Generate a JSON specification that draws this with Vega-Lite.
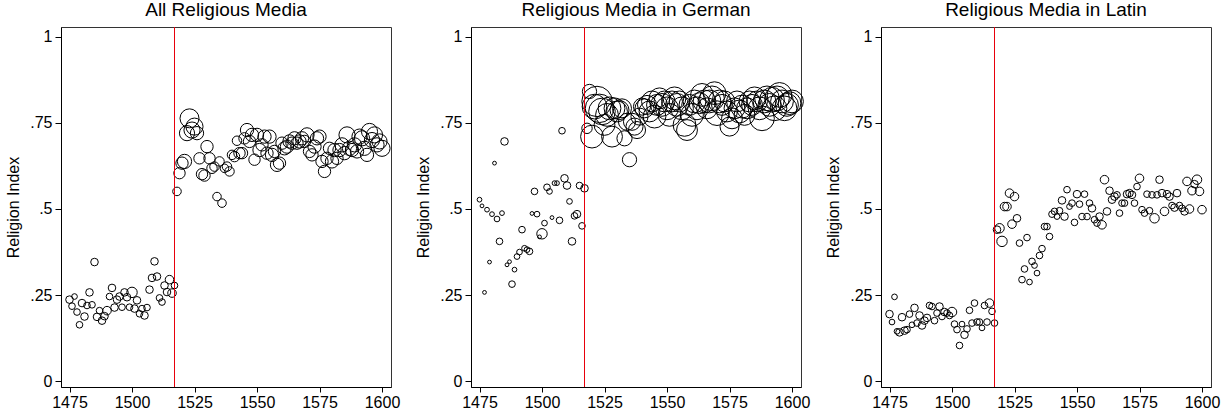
{
  "$schema": "https://vega.github.io/schema/vega-lite/v6.json",
  "autosize": "none",
  "padding": {"left": 61, "top": 27, "right": 1171, "bottom": 24},
  "background": "white",
  "bounds": "flush",
  "spacing": 80,
  "config": {
    "font": "Liberation Sans",
    "view": {"stroke": "#333333", "strokeWidth": 1},
    "axis": {
      "grid": false,
      "domainColor": "black",
      "tickColor": "black",
      "labelColor": "black",
      "labelFont": "Liberation Sans",
      "labelFontSize": 16,
      "titleFont": "Liberation Sans",
      "titleFontSize": 16,
      "titleFontWeight": "normal",
      "titleColor": "black"
    },
    "title": {"font": "Liberation Sans", "fontSize": 19, "fontWeight": "normal", "color": "black", "anchor": "middle", "frame": "group", "baseline": "alphabetic", "offset": 7}
  },
  "datasets": {
    "all": [
      {"year":1475,"idx":0.237,"n":64},{"year":1476,"idx":0.218,"n":49},{"year":1477,"idx":0.246,"n":36},{"year":1478,"idx":0.201,"n":49},{"year":1479,"idx":0.164,"n":49},{"year":1480,"idx":0.227,"n":64},{"year":1481,"idx":0.188,"n":64},{"year":1482,"idx":0.220,"n":49},{"year":1483,"idx":0.258,"n":64},{"year":1484,"idx":0.222,"n":49},{"year":1485,"idx":0.346,"n":64},{"year":1486,"idx":0.187,"n":64},{"year":1487,"idx":0.205,"n":49},{"year":1488,"idx":0.176,"n":64},{"year":1489,"idx":0.189,"n":64},{"year":1490,"idx":0.205,"n":81},{"year":1491,"idx":0.246,"n":49},{"year":1492,"idx":0.271,"n":64},{"year":1493,"idx":0.214,"n":64},{"year":1494,"idx":0.237,"n":64},{"year":1495,"idx":0.246,"n":64},{"year":1496,"idx":0.215,"n":49},{"year":1497,"idx":0.258,"n":64},{"year":1498,"idx":0.244,"n":64},{"year":1499,"idx":0.215,"n":49},{"year":1500,"idx":0.258,"n":121},{"year":1501,"idx":0.211,"n":64},{"year":1502,"idx":0.235,"n":64},{"year":1503,"idx":0.196,"n":49},{"year":1504,"idx":0.211,"n":49},{"year":1505,"idx":0.191,"n":64},{"year":1506,"idx":0.214,"n":49},{"year":1507,"idx":0.266,"n":64},{"year":1508,"idx":0.300,"n":64},{"year":1509,"idx":0.348,"n":64},{"year":1510,"idx":0.304,"n":64},{"year":1511,"idx":0.242,"n":49},{"year":1512,"idx":0.230,"n":49},{"year":1513,"idx":0.278,"n":64},{"year":1514,"idx":0.259,"n":64},{"year":1515,"idx":0.295,"n":81},{"year":1516,"idx":0.256,"n":81},{"year":1517,"idx":0.278,"n":49},
      {"year":1518,"idx":0.551,"n":81},{"year":1519,"idx":0.604,"n":144},{"year":1520,"idx":0.633,"n":169},{"year":1521,"idx":0.638,"n":225},{"year":1522,"idx":0.720,"n":256},{"year":1523,"idx":0.763,"n":400},{"year":1524,"idx":0.729,"n":289},{"year":1525,"idx":0.739,"n":324},{"year":1526,"idx":0.720,"n":196},{"year":1527,"idx":0.647,"n":144},{"year":1528,"idx":0.601,"n":144},{"year":1529,"idx":0.597,"n":144},{"year":1530,"idx":0.681,"n":169},{"year":1531,"idx":0.647,"n":144},{"year":1532,"idx":0.618,"n":121},{"year":1533,"idx":0.623,"n":100},{"year":1534,"idx":0.536,"n":81},{"year":1535,"idx":0.638,"n":100},{"year":1536,"idx":0.517,"n":81},{"year":1537,"idx":0.618,"n":81},{"year":1538,"idx":0.623,"n":100},{"year":1539,"idx":0.609,"n":100},{"year":1540,"idx":0.657,"n":100},{"year":1541,"idx":0.652,"n":121},{"year":1542,"idx":0.698,"n":100},{"year":1543,"idx":0.662,"n":144},{"year":1544,"idx":0.662,"n":144},{"year":1545,"idx":0.705,"n":144},{"year":1546,"idx":0.729,"n":196},{"year":1547,"idx":0.696,"n":169},{"year":1548,"idx":0.715,"n":196},{"year":1549,"idx":0.643,"n":144},{"year":1550,"idx":0.715,"n":196},{"year":1551,"idx":0.671,"n":196},{"year":1552,"idx":0.686,"n":169},{"year":1553,"idx":0.710,"n":196},{"year":1554,"idx":0.662,"n":169},{"year":1555,"idx":0.710,"n":196},{"year":1556,"idx":0.657,"n":196},{"year":1557,"idx":0.667,"n":169},{"year":1558,"idx":0.628,"n":196},{"year":1559,"idx":0.633,"n":169},{"year":1560,"idx":0.691,"n":169},{"year":1561,"idx":0.676,"n":196},{"year":1562,"idx":0.681,"n":196},{"year":1563,"idx":0.696,"n":196},{"year":1564,"idx":0.691,"n":169},{"year":1565,"idx":0.705,"n":196},{"year":1566,"idx":0.691,"n":169},{"year":1567,"idx":0.696,"n":196},{"year":1568,"idx":0.705,"n":196},{"year":1569,"idx":0.696,"n":169},{"year":1570,"idx":0.715,"n":225},{"year":1571,"idx":0.667,"n":169},{"year":1572,"idx":0.657,"n":169},{"year":1573,"idx":0.681,"n":196},{"year":1574,"idx":0.705,"n":196},{"year":1575,"idx":0.710,"n":196},{"year":1576,"idx":0.638,"n":169},{"year":1577,"idx":0.609,"n":169},{"year":1578,"idx":0.647,"n":169},{"year":1579,"idx":0.676,"n":169},{"year":1580,"idx":0.638,"n":196},{"year":1581,"idx":0.671,"n":196},{"year":1582,"idx":0.647,"n":169},{"year":1583,"idx":0.671,"n":196},{"year":1584,"idx":0.686,"n":225},{"year":1585,"idx":0.662,"n":196},{"year":1586,"idx":0.715,"n":289},{"year":1587,"idx":0.676,"n":225},{"year":1588,"idx":0.671,"n":196},{"year":1589,"idx":0.686,"n":225},{"year":1590,"idx":0.667,"n":196},{"year":1591,"idx":0.710,"n":256},{"year":1592,"idx":0.705,"n":256},{"year":1593,"idx":0.676,"n":225},{"year":1594,"idx":0.657,"n":196},{"year":1595,"idx":0.725,"n":289},{"year":1596,"idx":0.700,"n":256},{"year":1597,"idx":0.715,"n":289},{"year":1598,"idx":0.686,"n":225},{"year":1599,"idx":0.696,"n":256},{"year":1600,"idx":0.676,"n":289}
    ],
    "german": [
      {"year":1475,"idx":0.527,"n":25},{"year":1476,"idx":0.509,"n":16},{"year":1477,"idx":0.258,"n":16},{"year":1478,"idx":0.498,"n":25},{"year":1479,"idx":0.346,"n":16},{"year":1480,"idx":0.485,"n":25},{"year":1481,"idx":0.633,"n":16},{"year":1482,"idx":0.471,"n":36},{"year":1483,"idx":0.406,"n":49},{"year":1484,"idx":0.488,"n":25},{"year":1485,"idx":0.696,"n":64},{"year":1486,"idx":0.338,"n":16},{"year":1487,"idx":0.347,"n":16},{"year":1488,"idx":0.282,"n":49},{"year":1489,"idx":0.324,"n":25},{"year":1490,"idx":0.362,"n":36},{"year":1491,"idx":0.375,"n":36},{"year":1492,"idx":0.440,"n":49},{"year":1493,"idx":0.386,"n":36},{"year":1494,"idx":0.382,"n":36},{"year":1495,"idx":0.377,"n":49},{"year":1496,"idx":0.487,"n":16},{"year":1497,"idx":0.551,"n":49},{"year":1498,"idx":0.485,"n":36},{"year":1499,"idx":0.419,"n":16},{"year":1500,"idx":0.428,"n":121},{"year":1501,"idx":0.459,"n":36},{"year":1502,"idx":0.563,"n":49},{"year":1503,"idx":0.551,"n":36},{"year":1504,"idx":0.475,"n":16},{"year":1505,"idx":0.575,"n":25},{"year":1506,"idx":0.575,"n":25},{"year":1507,"idx":0.467,"n":49},{"year":1508,"idx":0.727,"n":49},{"year":1509,"idx":0.589,"n":64},{"year":1510,"idx":0.568,"n":64},{"year":1511,"idx":0.522,"n":36},{"year":1512,"idx":0.406,"n":64},{"year":1513,"idx":0.480,"n":49},{"year":1514,"idx":0.485,"n":64},{"year":1515,"idx":0.568,"n":49},{"year":1516,"idx":0.451,"n":49},{"year":1517,"idx":0.560,"n":64},
      {"year":1518,"idx":0.734,"n":121},{"year":1519,"idx":0.841,"n":225},{"year":1520,"idx":0.710,"n":576},{"year":1521,"idx":0.797,"n":676},{"year":1522,"idx":0.812,"n":1024},{"year":1523,"idx":0.792,"n":900},{"year":1524,"idx":0.783,"n":784},{"year":1525,"idx":0.744,"n":484},{"year":1526,"idx":0.773,"n":576},{"year":1527,"idx":0.792,"n":576},{"year":1528,"idx":0.710,"n":484},{"year":1529,"idx":0.792,"n":484},{"year":1530,"idx":0.783,"n":484},{"year":1531,"idx":0.787,"n":400},{"year":1532,"idx":0.792,"n":400},{"year":1533,"idx":0.705,"n":256},{"year":1534,"idx":0.753,"n":324},{"year":1535,"idx":0.643,"n":225},{"year":1536,"idx":0.753,"n":324},{"year":1537,"idx":0.739,"n":324},{"year":1538,"idx":0.729,"n":324},{"year":1539,"idx":0.768,"n":324},{"year":1540,"idx":0.797,"n":324},{"year":1541,"idx":0.792,"n":400},{"year":1542,"idx":0.802,"n":400},{"year":1543,"idx":0.783,"n":484},{"year":1544,"idx":0.812,"n":484},{"year":1545,"idx":0.768,"n":576},{"year":1546,"idx":0.802,"n":484},{"year":1547,"idx":0.821,"n":484},{"year":1548,"idx":0.802,"n":576},{"year":1549,"idx":0.812,"n":484},{"year":1550,"idx":0.792,"n":576},{"year":1551,"idx":0.773,"n":576},{"year":1552,"idx":0.812,"n":484},{"year":1553,"idx":0.821,"n":576},{"year":1554,"idx":0.802,"n":576},{"year":1555,"idx":0.812,"n":484},{"year":1556,"idx":0.792,"n":576},{"year":1557,"idx":0.744,"n":576},{"year":1558,"idx":0.729,"n":484},{"year":1559,"idx":0.802,"n":484},{"year":1560,"idx":0.773,"n":576},{"year":1561,"idx":0.812,"n":576},{"year":1562,"idx":0.792,"n":576},{"year":1563,"idx":0.807,"n":484},{"year":1564,"idx":0.831,"n":576},{"year":1565,"idx":0.812,"n":576},{"year":1566,"idx":0.792,"n":484},{"year":1567,"idx":0.812,"n":576},{"year":1568,"idx":0.821,"n":676},{"year":1569,"idx":0.836,"n":576},{"year":1570,"idx":0.778,"n":676},{"year":1571,"idx":0.812,"n":576},{"year":1572,"idx":0.802,"n":484},{"year":1573,"idx":0.812,"n":484},{"year":1574,"idx":0.783,"n":484},{"year":1575,"idx":0.739,"n":400},{"year":1576,"idx":0.763,"n":484},{"year":1577,"idx":0.792,"n":484},{"year":1578,"idx":0.812,"n":484},{"year":1579,"idx":0.783,"n":576},{"year":1580,"idx":0.797,"n":576},{"year":1581,"idx":0.773,"n":484},{"year":1582,"idx":0.792,"n":484},{"year":1583,"idx":0.812,"n":484},{"year":1584,"idx":0.802,"n":484},{"year":1585,"idx":0.821,"n":576},{"year":1586,"idx":0.812,"n":484},{"year":1587,"idx":0.792,"n":576},{"year":1588,"idx":0.763,"n":676},{"year":1589,"idx":0.812,"n":576},{"year":1590,"idx":0.821,"n":676},{"year":1591,"idx":0.802,"n":576},{"year":1592,"idx":0.817,"n":676},{"year":1593,"idx":0.792,"n":676},{"year":1594,"idx":0.821,"n":676},{"year":1595,"idx":0.831,"n":676},{"year":1596,"idx":0.812,"n":576},{"year":1597,"idx":0.792,"n":676},{"year":1598,"idx":0.802,"n":576},{"year":1599,"idx":0.807,"n":576},{"year":1600,"idx":0.812,"n":576}
    ],
    "latin": [
      {"year":1475,"idx":0.195,"n":64},{"year":1476,"idx":0.172,"n":36},{"year":1477,"idx":0.245,"n":36},{"year":1478,"idx":0.145,"n":36},{"year":1479,"idx":0.142,"n":64},{"year":1480,"idx":0.186,"n":64},{"year":1481,"idx":0.147,"n":64},{"year":1482,"idx":0.150,"n":49},{"year":1483,"idx":0.195,"n":49},{"year":1484,"idx":0.164,"n":36},{"year":1485,"idx":0.213,"n":64},{"year":1486,"idx":0.169,"n":49},{"year":1487,"idx":0.191,"n":64},{"year":1488,"idx":0.162,"n":64},{"year":1489,"idx":0.176,"n":64},{"year":1490,"idx":0.184,"n":64},{"year":1491,"idx":0.220,"n":49},{"year":1492,"idx":0.217,"n":49},{"year":1493,"idx":0.176,"n":49},{"year":1494,"idx":0.198,"n":49},{"year":1495,"idx":0.217,"n":64},{"year":1496,"idx":0.188,"n":49},{"year":1497,"idx":0.201,"n":64},{"year":1498,"idx":0.198,"n":49},{"year":1499,"idx":0.191,"n":49},{"year":1500,"idx":0.201,"n":100},{"year":1501,"idx":0.166,"n":49},{"year":1502,"idx":0.150,"n":49},{"year":1503,"idx":0.104,"n":49},{"year":1504,"idx":0.166,"n":36},{"year":1505,"idx":0.135,"n":64},{"year":1506,"idx":0.152,"n":49},{"year":1507,"idx":0.206,"n":49},{"year":1508,"idx":0.169,"n":49},{"year":1509,"idx":0.227,"n":49},{"year":1510,"idx":0.172,"n":49},{"year":1511,"idx":0.172,"n":49},{"year":1512,"idx":0.155,"n":36},{"year":1513,"idx":0.220,"n":49},{"year":1514,"idx":0.172,"n":49},{"year":1515,"idx":0.227,"n":81},{"year":1516,"idx":0.203,"n":49},{"year":1517,"idx":0.169,"n":49},
      {"year":1518,"idx":0.440,"n":64},{"year":1519,"idx":0.444,"n":100},{"year":1520,"idx":0.406,"n":121},{"year":1521,"idx":0.507,"n":81},{"year":1522,"idx":0.507,"n":81},{"year":1523,"idx":0.546,"n":81},{"year":1524,"idx":0.456,"n":81},{"year":1525,"idx":0.536,"n":81},{"year":1526,"idx":0.473,"n":64},{"year":1527,"idx":0.401,"n":49},{"year":1528,"idx":0.295,"n":49},{"year":1529,"idx":0.326,"n":49},{"year":1530,"idx":0.417,"n":49},{"year":1531,"idx":0.288,"n":36},{"year":1532,"idx":0.348,"n":49},{"year":1533,"idx":0.336,"n":36},{"year":1534,"idx":0.314,"n":36},{"year":1535,"idx":0.365,"n":49},{"year":1536,"idx":0.385,"n":49},{"year":1537,"idx":0.449,"n":49},{"year":1538,"idx":0.449,"n":49},{"year":1539,"idx":0.420,"n":49},{"year":1540,"idx":0.485,"n":49},{"year":1541,"idx":0.493,"n":49},{"year":1542,"idx":0.478,"n":36},{"year":1543,"idx":0.495,"n":49},{"year":1544,"idx":0.525,"n":64},{"year":1545,"idx":0.478,"n":64},{"year":1546,"idx":0.556,"n":49},{"year":1547,"idx":0.507,"n":36},{"year":1548,"idx":0.517,"n":49},{"year":1549,"idx":0.461,"n":49},{"year":1550,"idx":0.543,"n":64},{"year":1551,"idx":0.514,"n":49},{"year":1552,"idx":0.478,"n":49},{"year":1553,"idx":0.543,"n":49},{"year":1554,"idx":0.478,"n":49},{"year":1555,"idx":0.517,"n":49},{"year":1556,"idx":0.502,"n":64},{"year":1557,"idx":0.469,"n":49},{"year":1558,"idx":0.459,"n":49},{"year":1559,"idx":0.478,"n":64},{"year":1560,"idx":0.454,"n":81},{"year":1561,"idx":0.585,"n":81},{"year":1562,"idx":0.493,"n":64},{"year":1563,"idx":0.553,"n":64},{"year":1564,"idx":0.527,"n":64},{"year":1565,"idx":0.536,"n":64},{"year":1566,"idx":0.541,"n":49},{"year":1567,"idx":0.488,"n":49},{"year":1568,"idx":0.517,"n":49},{"year":1569,"idx":0.517,"n":49},{"year":1570,"idx":0.543,"n":64},{"year":1571,"idx":0.546,"n":64},{"year":1572,"idx":0.541,"n":64},{"year":1573,"idx":0.517,"n":49},{"year":1574,"idx":0.565,"n":49},{"year":1575,"idx":0.589,"n":81},{"year":1576,"idx":0.498,"n":49},{"year":1577,"idx":0.488,"n":49},{"year":1578,"idx":0.543,"n":49},{"year":1579,"idx":0.495,"n":49},{"year":1580,"idx":0.541,"n":49},{"year":1581,"idx":0.473,"n":100},{"year":1582,"idx":0.541,"n":49},{"year":1583,"idx":0.585,"n":64},{"year":1584,"idx":0.546,"n":64},{"year":1585,"idx":0.493,"n":81},{"year":1586,"idx":0.543,"n":64},{"year":1587,"idx":0.536,"n":64},{"year":1588,"idx":0.510,"n":49},{"year":1589,"idx":0.504,"n":64},{"year":1590,"idx":0.546,"n":64},{"year":1591,"idx":0.510,"n":49},{"year":1592,"idx":0.502,"n":49},{"year":1593,"idx":0.493,"n":64},{"year":1594,"idx":0.580,"n":81},{"year":1595,"idx":0.500,"n":81},{"year":1596,"idx":0.553,"n":81},{"year":1597,"idx":0.572,"n":64},{"year":1598,"idx":0.585,"n":100},{"year":1599,"idx":0.551,"n":81},{"year":1600,"idx":0.498,"n":81}
    ],
    "reform": [{"year": 1517}]
  },
  "hconcat": [
    {
      "width": 330, "height": 360,
      "title": {"text": "All Religious Media"},
      "layer": [
        {
          "data": {"name": "all"},
          "mark": {"type": "point", "shape": "circle", "filled": false, "stroke": "black", "strokeWidth": 1, "opacity": 1},
          "encoding": {
            "x": {"field": "year", "type": "quantitative", "scale": {"domain": [1471.6, 1603.6], "nice": false, "zero": false}, "axis": {"values": [1475, 1500, 1525, 1550, 1575, 1600], "format": "d", "title": null, "tickSize": 5, "labelPadding": 2}},
            "y": {"field": "idx", "type": "quantitative", "scale": {"domain": [-0.0165, 1.028], "nice": false, "zero": false}, "axis": {"values": [0, 0.25, 0.5, 0.75, 1], "format": ".2~f", "labelExpr": "datum.value == 0 ? '0' : datum.value == 1 ? '1' : substring(datum.label, 1)", "title": "Religion Index", "tickSize": 6, "labelPadding": 3, "titlePadding": 8}},
            "size": {"field": "n", "type": "quantitative", "scale": {"domain": [0, 1000], "range": [0, 900]}, "legend": null}
          }
        },
        {
          "data": {"name": "reform"},
          "mark": {"type": "rule", "color": "#e8000b", "strokeWidth": 1},
          "encoding": {"x": {"field": "year", "type": "quantitative"}}
        }
      ]
    },
    {
      "width": 330, "height": 360,
      "title": {"text": "Religious Media in German"},
      "layer": [
        {
          "data": {"name": "german"},
          "mark": {"type": "point", "shape": "circle", "filled": false, "stroke": "black", "strokeWidth": 1, "opacity": 1},
          "encoding": {
            "x": {"field": "year", "type": "quantitative", "scale": {"domain": [1471.6, 1603.6], "nice": false, "zero": false}, "axis": {"values": [1475, 1500, 1525, 1550, 1575, 1600], "format": "d", "title": null, "tickSize": 5, "labelPadding": 2}},
            "y": {"field": "idx", "type": "quantitative", "scale": {"domain": [-0.0165, 1.028], "nice": false, "zero": false}, "axis": {"values": [0, 0.25, 0.5, 0.75, 1], "format": ".2~f", "labelExpr": "datum.value == 0 ? '0' : datum.value == 1 ? '1' : substring(datum.label, 1)", "title": "Religion Index", "tickSize": 6, "labelPadding": 3, "titlePadding": 8}},
            "size": {"field": "n", "type": "quantitative", "scale": {"domain": [0, 1000], "range": [0, 900]}, "legend": null}
          }
        },
        {
          "data": {"name": "reform"},
          "mark": {"type": "rule", "color": "#e8000b", "strokeWidth": 1},
          "encoding": {"x": {"field": "year", "type": "quantitative"}}
        }
      ]
    },
    {
      "width": 330, "height": 360,
      "title": {"text": "Religious Media in Latin"},
      "layer": [
        {
          "data": {"name": "latin"},
          "mark": {"type": "point", "shape": "circle", "filled": false, "stroke": "black", "strokeWidth": 1, "opacity": 1},
          "encoding": {
            "x": {"field": "year", "type": "quantitative", "scale": {"domain": [1471.6, 1603.6], "nice": false, "zero": false}, "axis": {"values": [1475, 1500, 1525, 1550, 1575, 1600], "format": "d", "title": null, "tickSize": 5, "labelPadding": 2}},
            "y": {"field": "idx", "type": "quantitative", "scale": {"domain": [-0.0165, 1.028], "nice": false, "zero": false}, "axis": {"values": [0, 0.25, 0.5, 0.75, 1], "format": ".2~f", "labelExpr": "datum.value == 0 ? '0' : datum.value == 1 ? '1' : substring(datum.label, 1)", "title": "Religion Index", "tickSize": 6, "labelPadding": 3, "titlePadding": 8}},
            "size": {"field": "n", "type": "quantitative", "scale": {"domain": [0, 1000], "range": [0, 900]}, "legend": null}
          }
        },
        {
          "data": {"name": "reform"},
          "mark": {"type": "rule", "color": "#e8000b", "strokeWidth": 1},
          "encoding": {"x": {"field": "year", "type": "quantitative"}}
        }
      ]
    }
  ]
}
